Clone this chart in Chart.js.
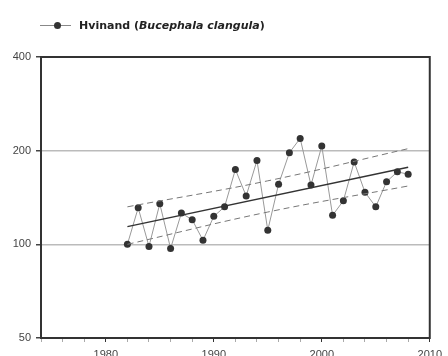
<!DOCTYPE html>
<html>
<head>
<meta charset="utf-8">
<script src="https://cdn.jsdelivr.net/npm/chart.js@4.4.1/dist/chart.umd.min.js"></script>
<style>
  html, body { margin: 0; padding: 0; background: #fff; overflow: hidden; }
  #wrap { position: relative; width: 448px; height: 370px; }
  #legend { position: absolute; left: 40px; top: 19px; height: 14px; font: bold 11px "DejaVu Sans", sans-serif; color: #222; white-space: nowrap; }
  #legend .ln { position: absolute; left: 0; top: 6px; width: 31px; height: 1px; background: #888; }
  #legend .dot { position: absolute; left: 14px; top: 3px; width: 7px; height: 7px; border-radius: 50%; background: #333; }
  #legend .txt { position: absolute; left: 39px; top: 0; line-height: 14px; }
</style>
</head>
<body>
<div id="wrap">
  <canvas id="myChart" width="448" height="370"></canvas>
  <div id="legend"><span class="ln"></span><span class="dot"></span><span class="txt">Hvinand (<i>Bucephala clangula</i>)</span></div>
</div>
<script>
// counts, Hvinand
const years = [1982, 1983, 1984, 1985, 1986, 1987, 1988, 1989, 1990, 1991, 1992, 1993, 1994, 1995,
               1996, 1997, 1998, 1999, 2000, 2001, 2002, 2003, 2004, 2005, 2006, 2007, 2008];
const counts = [100, 131, 98.5, 135, 97, 126, 120, 103, 123, 132, 174, 143, 186, 111,
                156, 197, 219, 155, 207, 124, 138, 184, 147, 132, 159, 171, 168];

// trend line and its confidence band
const trendYears = [1982, 2008];
const trendValues = [114, 177];
const bandYears = [1982, 1995, 2008];
const bandUpper = [132, 160, 203];
const bandLower = [100, 127, 154];

const yTicks = [50, 100, 200, 400];
const xLabelYears = [1980, 1990, 2000, 2010];

const toPoints = (xs, ys) => xs.map((x, i) => ({ x: x, y: ys[i] }));

const frame = {
    id: 'frame',
    afterDraw(chart) {
        const a = chart.chartArea;
        const c = chart.ctx;
        c.save();
        c.strokeStyle = '#333';
        c.lineWidth = 2;
        c.strokeRect(a.left, a.top, a.right - a.left, a.bottom - a.top);
        c.restore();
    }
};

const ctx = document.getElementById('myChart');

new Chart(ctx, {
    type: 'line',
    data: {
        datasets: [
            {
                data: toPoints(bandYears, bandUpper),
                borderColor: '#777',
                borderWidth: 1,
                borderDash: [6, 4],
                pointRadius: 0,
                tension: 0.4
            },
            {
                data: toPoints(bandYears, bandLower),
                borderColor: '#777',
                borderWidth: 1,
                borderDash: [6, 4],
                pointRadius: 0,
                tension: 0.4
            },
            {
                data: toPoints(trendYears, trendValues),
                borderColor: '#333',
                borderWidth: 1.5,
                pointRadius: 0
            },
            {
                label: 'Hvinand (Bucephala clangula)',
                data: toPoints(years, counts),
                borderColor: '#999',
                borderWidth: 1,
                pointRadius: 3.5,
                pointBackgroundColor: '#333',
                pointBorderColor: '#333',
                pointBorderWidth: 0
            }
        ]
    },
    options: {
        responsive: false,
        animation: false,
        layout: { padding: { top: 57, right: 17, left: 0, bottom: 0 } },
        plugins: {
            legend: { display: false },
            tooltip: { enabled: false }
        },
        scales: {
            x: {
                type: 'linear',
                min: 1974,
                max: 2010,
                ticks: {
                    stepSize: 2,
                    autoSkip: false,
                    maxRotation: 0,
                    padding: 6,
                    color: '#444',
                    font: { size: 11, family: "'Liberation Sans', Arial, sans-serif" },
                    callback: v => xLabelYears.includes(v) ? String(v) : ''
                },
                grid: {
                    drawOnChartArea: false,
                    tickLength: 4,
                    tickColor: c => (c.tick && xLabelYears.includes(c.tick.value)) ? '#333' : '#aaa'
                },
                border: { display: false },
                afterFit: s => { s.height = 32; }
            },
            y: {
                type: 'logarithmic',
                min: 50,
                max: 400,
                afterBuildTicks: s => { s.ticks = yTicks.map(v => ({ value: v })); },
                ticks: {
                    padding: 5,
                    color: '#444',
                    font: { size: 11, family: "'Liberation Sans', Arial, sans-serif" },
                    callback: v => String(v)
                },
                grid: {
                    tickLength: 5,
                    tickColor: '#444',
                    lineWidth: 1.5,
                    color: c => (c.tick && (c.tick.value === 100 || c.tick.value === 200)) ? '#bbb' : 'rgba(0,0,0,0)'
                },
                border: { display: false },
                afterFit: s => { s.width = 41; }
            }
        }
    },
    plugins: [frame]
});
</script>
</body>
</html>
